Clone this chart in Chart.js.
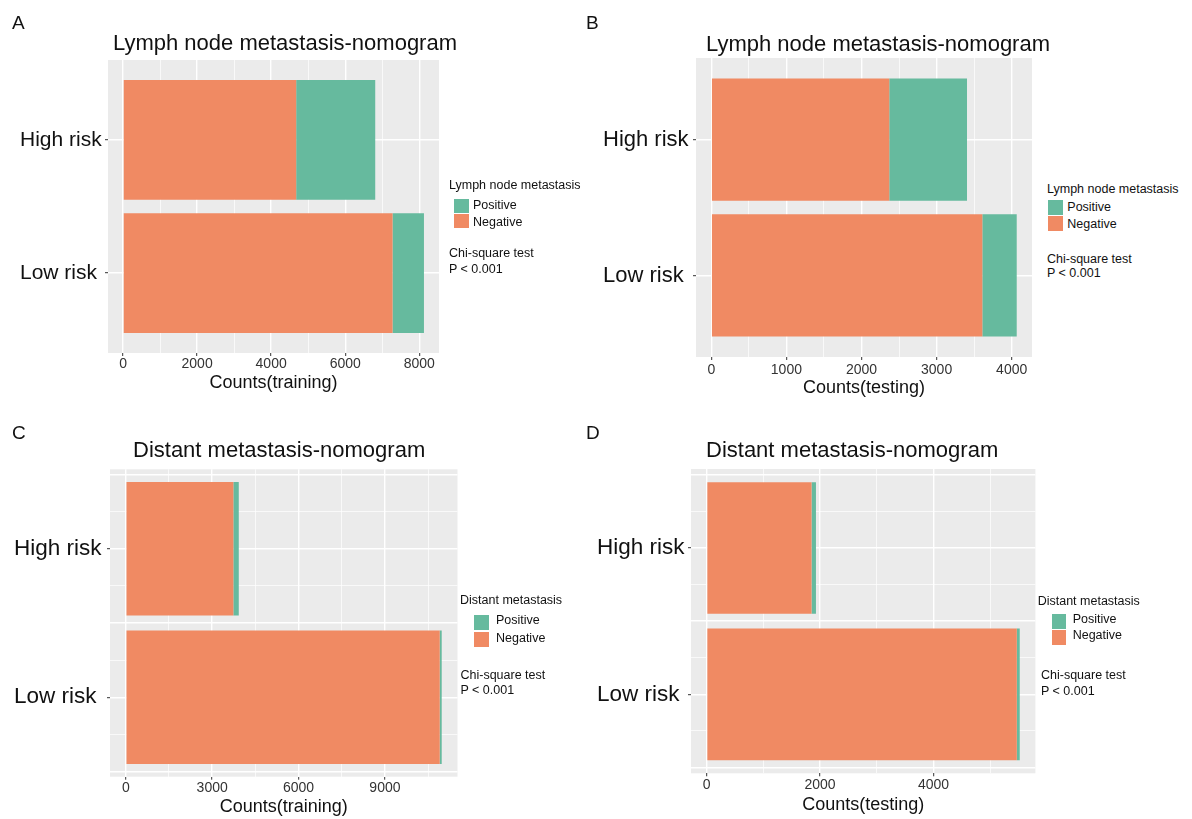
<!DOCTYPE html>
<html lang="en">
<head>
  <meta charset="UTF-8">
  <title>Risk group counts</title>
  <script src="https://cdn.jsdelivr.net/npm/chart.js"></script>
  <style>
    body, html {
      margin: 0;
      padding: 0;
      background: #fff;
      font-family: "Liberation Sans", Arial, sans-serif;
    }
    #page {
      position: relative;
      width: 1192px;
      height: 819px;
      overflow: hidden;
    }
    canvas, .txt, .key {
      position: absolute;
    }
    .txt {
      line-height: 1;
      white-space: nowrap;
      color: #111;
    }
  </style>
</head>
<body>
<div id="page"></div>

<script>
  // categories
  const riskGroups = ['High risk', 'Low risk'];
  const riskPos = [1, 2];

  // A: lymph node metastasis, training
  const lnTrainNegative = [4676, 7279];
  const lnTrainPositive = [2135, 848];
  // B: lymph node metastasis, testing
  const lnTestNegative = [2370, 3609];
  const lnTestPositive = [1035, 458];
  // C: distant metastasis, training
  const dmTrainNegative = [3736, 10903];
  const dmTrainPositive = [188, 69];
  // D: distant metastasis, testing
  const dmTestNegative = [1850, 5470];
  const dmTestPositive = [78, 52];

  // tick labels
  const ticksA = [0, 2000, 4000, 6000, 8000];
  const ticksB = [0, 1000, 2000, 3000, 4000];
  const ticksC = [0, 3000, 6000, 9000];
  const ticksD = [0, 2000, 4000];

  const ORANGE = '#F08A63';
  const GREEN = '#66BA9E';
  const FONT = '"Liberation Sans", Arial, sans-serif';

  const page = document.getElementById('page');

  function addText(str, x, yMid, size) {
    const d = document.createElement('div');
    d.className = 'txt';
    d.textContent = str;
    d.style.left = x + 'px';
    d.style.top = (yMid - size / 2) + 'px';
    d.style.fontSize = size + 'px';
    page.appendChild(d);
  }

  function addKey(color, x, y, w, h) {
    const d = document.createElement('div');
    d.className = 'key';
    d.style.left = x + 'px';
    d.style.top = y + 'px';
    d.style.width = w + 'px';
    d.style.height = h + 'px';
    d.style.background = color;
    page.appendChild(d);
  }

  const panelBg = {
    id: 'panelBg',
    beforeDraw(chart) {
      const { ctx, chartArea: a } = chart;
      ctx.save();
      ctx.fillStyle = '#EBEBEB';
      ctx.fillRect(a.left, a.top, a.right - a.left, a.bottom - a.top);
      ctx.restore();
    }
  };

  const tickVal = c => (c && c.tick ? c.tick.value : NaN);

  function makePanel(p) {
    const canvas = document.createElement('canvas');
    canvas.width = p.w;
    canvas.height = p.h;
    canvas.style.left = p.left + 'px';
    canvas.style.top = p.top + 'px';
    page.appendChild(canvas);

    const total = p.neg.map((v, i) => v + p.pos[i]);
    const maxTotal = Math.max(...total);
    const xMin = -0.05 * maxTotal;
    const xMax = 1.05 * maxTotal;

    // ggplot style grid: majors at labelled ticks, minors half way
    const step = p.ticks[1] - p.ticks[0];
    const xGrid = [];
    for (let v = p.ticks[0] - step / 2; v <= xMax; v += step / 2) {
      if (v >= xMin) xGrid.push(v);
    }
    const yGrid = p.yMinor ? [0.5, 0.75, 1, 1.25, 1.5, 1.75, 2, 2.25, 2.5] : [1, 2];
    const isXMajor = v => p.ticks.includes(v);
    const isYLabel = v => riskPos.includes(v);
    const isYMajor = v => Number.isInteger(v * 2);
    // bar ruler takes the smallest tick gap, so scale back up to one category
    const catPct = p.yMinor ? 4 : 1;

    new Chart(canvas.getContext('2d'), {
      type: 'bar',
      data: {
        datasets: [
          {
            label: 'Negative',
            data: p.neg.map((v, i) => ({ x: v, y: riskPos[i] })),
            backgroundColor: ORANGE,
            borderWidth: 0
          },
          {
            label: 'Positive',
            data: p.pos.map((v, i) => ({ x: v, y: riskPos[i] })),
            backgroundColor: GREEN,
            borderWidth: 0
          }
        ]
      },
      options: {
        indexAxis: 'y',
        responsive: false,
        animation: false,
        events: [],
        categoryPercentage: catPct,
        barPercentage: 0.9,
        layout: {
          padding: { left: p.padLeft, right: p.padRight, top: p.padTop, bottom: 0 }
        },
        plugins: {
          legend: { display: false },
          tooltip: { enabled: false }
        },
        scales: {
          x: {
            type: 'linear',
            stacked: true,
            offset: false,
            min: xMin,
            max: xMax,
            afterBuildTicks: s => { s.ticks = xGrid.map(v => ({ value: v })); },
            afterFit: s => { s.height = p.xAxisH; },
            border: { display: false },
            grid: {
              offset: false,
              color: '#FFFFFF',
              lineWidth: c => isXMajor(tickVal(c)) ? 1.4 : 0.7,
              tickColor: c => isXMajor(tickVal(c)) ? '#333333' : 'rgba(0,0,0,0)',
              tickWidth: 1,
              tickLength: 3
            },
            ticks: {
              autoSkip: false,
              maxRotation: 0,
              padding: p.xTickPad,
              color: '#333333',
              font: { family: FONT, size: 14 },
              callback: v => isXMajor(v) ? String(v) : ''
            },
            title: {
              display: true,
              text: p.xTitle,
              color: '#111111',
              font: { family: FONT, size: 18 },
              padding: { top: 0, bottom: p.xTitlePad }
            }
          },
          y: {
            type: 'linear',
            stacked: true,
            reverse: true,
            offset: false,
            min: 1 - p.yExpand,
            max: 2 + p.yExpand,
            afterBuildTicks: s => { s.ticks = yGrid.map(v => ({ value: v })); },
            afterFit: s => { s.width = p.yAxisW; },
            border: { display: false },
            grid: {
              offset: false,
              color: '#FFFFFF',
              lineWidth: c => isYMajor(tickVal(c)) ? 1.4 : 0.7,
              tickColor: c => isYLabel(tickVal(c)) ? '#333333' : 'rgba(0,0,0,0)',
              tickWidth: 1,
              tickLength: 3
            },
            ticks: {
              autoSkip: false,
              crossAlign: 'far',
              color: '#111111',
              font: { family: FONT, size: p.yFont },
              callback: v => isYLabel(v) ? riskGroups[riskPos.indexOf(v)] : ''
            }
          }
        }
      },
      plugins: [panelBg]
    });
  }

  // A
  makePanel({
    left: 0, top: 0, w: 450, h: 400,
    padLeft: 20, yAxisW: 88, padRight: 11, padTop: 60, xAxisH: 47,
    xTickPad: 0, xTitlePad: 6, yFont: 21, yExpand: 0.6, yMinor: false,
    neg: lnTrainNegative, pos: lnTrainPositive, ticks: ticksA, xTitle: 'Counts(training)'
  });
  // B
  makePanel({
    left: 585, top: 0, w: 460, h: 400,
    padLeft: 18, yAxisW: 93, padRight: 13, padTop: 58, xAxisH: 43,
    xTickPad: 2, xTitlePad: 1, yFont: 22, yExpand: 0.6, yMinor: false,
    neg: lnTestNegative, pos: lnTestPositive, ticks: ticksB, xTitle: 'Counts(testing)'
  });
  // C
  makePanel({
    left: 0, top: 410, w: 470, h: 409,
    padLeft: 14, yAxisW: 96, padRight: 12.5, padTop: 59.3, xAxisH: 42.3,
    xTickPad: 0, xTitlePad: 1.5, yFont: 22.5, yExpand: 0.535, yMinor: true,
    neg: dmTrainNegative, pos: dmTrainPositive, ticks: ticksC, xTitle: 'Counts(training)'
  });
  // D
  makePanel({
    left: 585, top: 410, w: 460, h: 409,
    padLeft: 12, yAxisW: 94, padRight: 9.6, padTop: 59, xAxisH: 45.7,
    xTickPad: 0, xTitlePad: 3, yFont: 22.5, yExpand: 0.54, yMinor: true,
    neg: dmTestNegative, pos: dmTestPositive, ticks: ticksD, xTitle: 'Counts(testing)'
  });

  // panel letters and titles
  addText('A', 12, 22.7, 19);
  addText('B', 586, 22.7, 19);
  addText('C', 12, 432, 19);
  addText('D', 586, 432, 19);
  addText('Lymph node metastasis-nomogram', 113, 42.5, 22);
  addText('Lymph node metastasis-nomogram', 706, 43.5, 22);
  addText('Distant metastasis-nomogram', 133, 449.7, 22);
  addText('Distant metastasis-nomogram', 706, 450, 22);

  // legends
  function legend(title, tx, tyMid, kx, greenTop, orangeTop, kw, kh, labX, posMid, negMid, cx, chiMid, pMid) {
    addText(title, tx, tyMid, 12.5);
    addKey(GREEN, kx, greenTop, kw, kh);
    addKey(ORANGE, kx, orangeTop, kw, kh);
    addText('Positive', labX, posMid, 12.5);
    addText('Negative', labX, negMid, 12.5);
    addText('Chi-square test', cx, chiMid, 12.5);
    addText('P < 0.001', cx, pMid, 12.5);
  }
  legend('Lymph node metastasis', 449, 185, 454, 198.5, 213.8, 14.5, 14.5, 473, 205.3, 222.2, 449, 253.3, 269);
  legend('Lymph node metastasis', 1047, 189, 1047.5, 200, 216, 15, 14.5, 1067.3, 207.3, 224, 1047, 259, 273.3);
  legend('Distant metastasis', 460, 600, 474, 615, 631.5, 15, 15, 496, 620, 638.3, 460.5, 675, 690.5);
  legend('Distant metastasis', 1037.7, 601.7, 1051.7, 614, 630, 14.6, 15, 1072.7, 619, 635.7, 1041, 675, 691);
</script>
</body>
</html>
